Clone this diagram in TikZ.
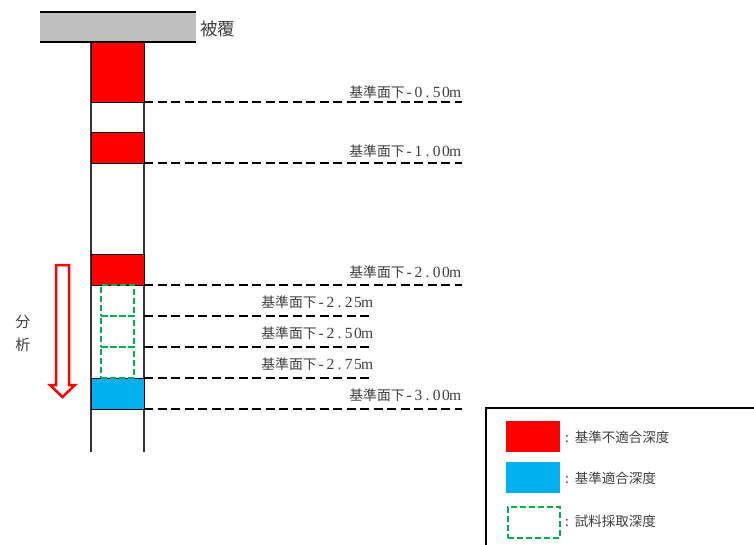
\documentclass[tikz,border=0pt]{standalone}
\usepackage{fontspec}
\setmainfont{Noto Sans CJK JP}
\newfontfamily\digf{Liberation Serif}
\definecolor{rd}{RGB}{255,0,0}
\definecolor{bl}{RGB}{0,176,240}
\definecolor{gr}{RGB}{0,176,80}
\definecolor{cv}{RGB}{192,192,192}
\definecolor{tx}{RGB}{64,64,64}
\def\mchars#1{{\digf\fontsize{15.5}{17}\selectfont\mcharsi#1\relax}}
\def\mcharsi#1{\ifx#1\relax\else\makebox[9.2pt]{#1}\expandafter\mcharsi\fi}
\newcommand\deplab[1]{基準面下\mchars{#1}}
\tikzset{
  blk/.style={anchor=north west,inner sep=0pt,outer sep=0pt,minimum width=53pt,draw=black,line width=0.8pt},
  redblk/.style={blk,fill=rd},
  blueblk/.style={blk,fill=bl},
  smp/.style={anchor=north west,inner sep=0pt,outer sep=0pt,minimum width=33pt,minimum height=31pt,draw=gr,line width=2pt,dash pattern=on 6pt off 3pt},
  dline/.style={line width=2.4pt,dash pattern=on 9pt off 4.5pt},
  lbl/.style={anchor=base east,inner sep=0pt,text=tx,font=\fontsize{13.8}{15}\selectfont},
  leg/.style={anchor=west,inner sep=0pt,text=tx,font=\fontsize{13.5}{15}\selectfont},
  colline/.style={line width=1.2pt,draw=black!80}
}
\begin{document}
\begin{tikzpicture}[x=1pt,y=-1pt]
\useasboundingbox (0,0) rectangle (754,544);
% cover
\fill[cv] (40,12) rectangle (196,42);
\draw[line width=2pt] (40,12) -- (196,12);
\draw[line width=2pt] (40,42) -- (196,42);
\node[anchor=west,inner sep=0pt,text=tx,font=\fontsize{17.5}{19}\selectfont] (cover) at (200,29) {被覆};
% column
\draw[colline] (91,42) -- (91,452);
\draw[colline] (144,57) -- (144,452);
% blocks
\node[redblk,minimum height=60pt] (r1) at (91,42) {};
\node[redblk,minimum height=31pt] (r2) at (91,132) {};
\node[redblk,minimum height=31pt] (r3) at (91,254) {};
\node[blueblk,minimum height=31pt] (b1) at (91,378) {};
\node[smp] (s1) at (101,285) {};
\node[smp] (s2) at (101,316) {};
\node[smp] (s3) at (101,347) {};
% dashed lines
\coordinate (e050) at (462,102);
\coordinate (e100) at (462,163);
\coordinate (e200) at (462,285);
\coordinate (e225) at (373,316);
\coordinate (e250) at (373,347);
\coordinate (e275) at (373,378);
\coordinate (e300) at (462,409);
\draw[dline] (r1.south east) -- (e050);
\draw[dline] (r2.south east) -- (e100);
\draw[dline] (r3.south east) -- (e200);
\draw[dline] (144,316) -- (e225);
\draw[dline] (144,347) -- (e250);
\draw[dline] (b1.north east) -- (e275);
\draw[dline] (b1.south east) -- (e300);
\node[lbl] (t050) at (460,97) {\deplab{-0.50m}};
\node[lbl] (t100) at (460,156) {\deplab{-1.00m}};
\node[lbl] (t200) at (460,277) {\deplab{-2.00m}};
\node[lbl] (t225) at (372,307) {\deplab{-2.25m}};
\node[lbl] (t250) at (372,338) {\deplab{-2.50m}};
\node[lbl] (t275) at (372,369) {\deplab{-2.75m}};
\node[lbl] (t300) at (460,400) {\deplab{-3.00m}};
% analysis arrow
\draw[draw=rd,fill=white,line width=2.5pt,line join=miter]
  (56,265) -- (69,265) -- (69,385) -- (75,385) -- (62.5,397) -- (50,385) -- (56,385) -- cycle;
\node[inner sep=0pt,text=tx,font=\fontsize{15}{17}\selectfont] (a1) at (23,322) {分};
\node[inner sep=0pt,text=tx,font=\fontsize{15}{17}\selectfont] (a2) at (23,345) {析};
% legend
\draw[line width=1.2pt] (760,408) -- (486,408) -- (486,550);
\node[anchor=north west,inner sep=0pt,fill=rd,minimum width=54pt,minimum height=31pt] (lr) at (506,421) {};
\node[anchor=north west,inner sep=0pt,fill=bl,minimum width=54pt,minimum height=31pt] (lb) at (506,462) {};
\node[anchor=north west,inner sep=0pt,draw=gr,line width=2pt,dash pattern=on 6pt off 3pt,minimum width=52pt,minimum height=31pt] (lg) at (507,506) {};
\node[leg] (tr) at (565,437) {:\hspace{6pt}基準不適合深度};
\node[leg] (tb) at (565,478) {:\hspace{6pt}基準適合深度};
\node[leg] (tg) at (565,521) {:\hspace{6pt}試料採取深度};
\end{tikzpicture}
\end{document}
